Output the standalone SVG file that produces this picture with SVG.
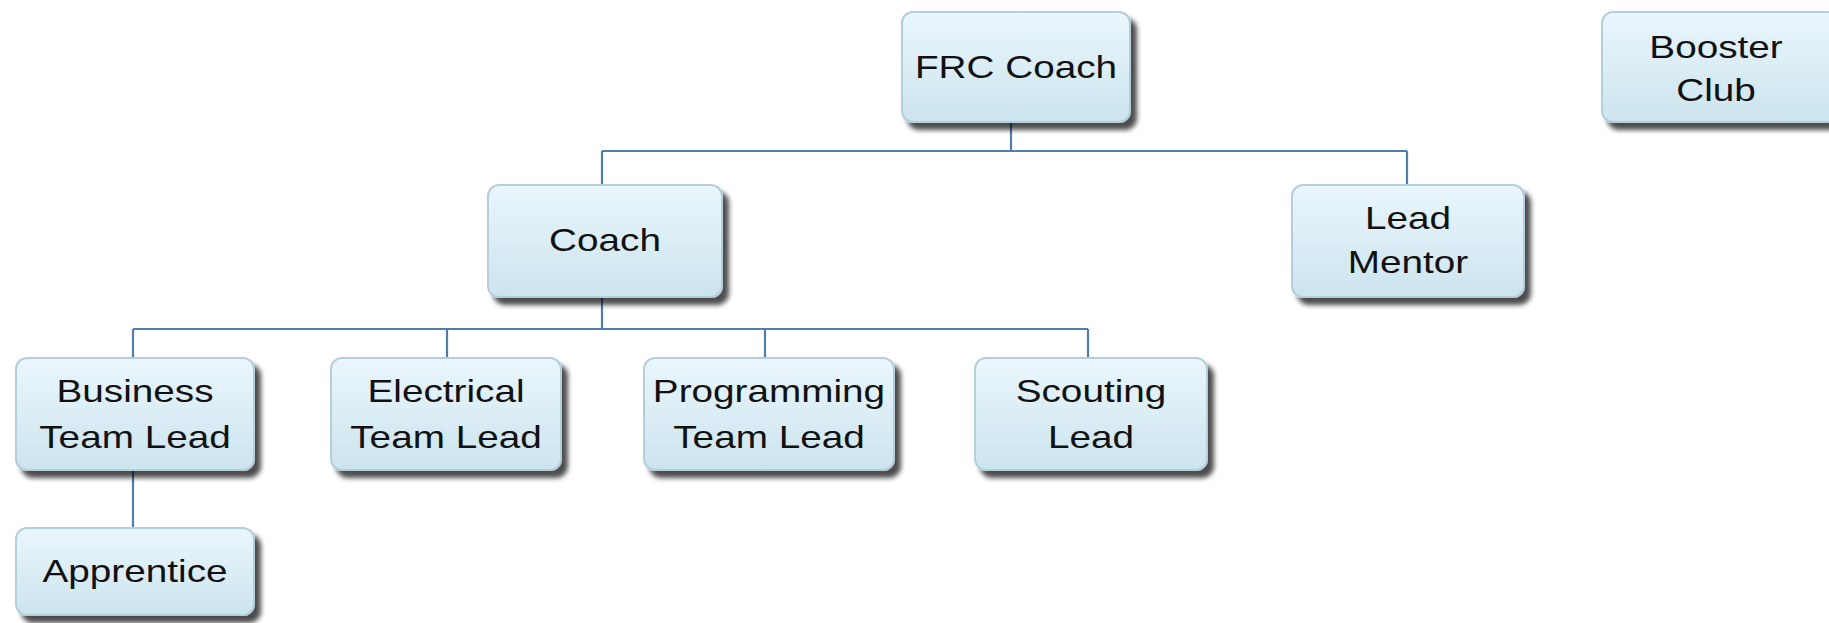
<svg xmlns="http://www.w3.org/2000/svg" width="1829" height="623" viewBox="0 0 1829 623">
<defs>
<linearGradient id="g" x1="0" y1="0" x2="0" y2="1">
<stop offset="0" stop-color="#eaf6fc"/>
<stop offset="1" stop-color="#cce4ee"/>
</linearGradient>
<filter id="sh" x="-10%" y="-10%" width="125%" height="135%">
<feGaussianBlur in="SourceAlpha" stdDeviation="2.5"/>
<feOffset dx="6" dy="7" result="b"/>
<feComponentTransfer><feFuncA type="linear" slope="0.7"/></feComponentTransfer>
<feMerge><feMergeNode/><feMergeNode in="SourceGraphic"/></feMerge>
</filter>
</defs>
<style>
.box{fill:url(#g);stroke:#b4cfdb;stroke-width:2;filter:url(#sh)}
.t{font-family:"Liberation Sans",Arial,sans-serif;font-size:32px;fill:#111111;text-anchor:middle}
.c{fill:none;stroke:#4f7eaa;stroke-width:2.2}
</style>
<rect width="1829" height="623" fill="#ffffff"/>
<g id="connectors">
<path class="c" d="M1011 122V151M602 151H1407M602 151V185M1407 151V185"/>
<path class="c" d="M602 297V329M133 329H1088M133 329V358M447 329V358M765 329V358M1088 329V358"/>
<path class="c" d="M133 470V528"/>
</g>
<g id="frc-coach">
<rect class="box" x="902" y="12" width="228" height="110" rx="11"/>
<text class="t" transform="translate(1016,78) scale(1.21,1)">FRC Coach</text>
</g>
<g id="booster-club">
<rect class="box" x="1602" y="12" width="236" height="110" rx="11"/>
<text class="t" transform="translate(1716,58) scale(1.21,1)">Booster</text>
<text class="t" transform="translate(1716,101) scale(1.21,1)">Club</text>
</g>
<g id="coach">
<rect class="box" x="488" y="185" width="234" height="112" rx="11"/>
<text class="t" transform="translate(605,251) scale(1.21,1)">Coach</text>
</g>
<g id="lead-mentor">
<rect class="box" x="1292" y="185" width="232" height="112" rx="11"/>
<text class="t" transform="translate(1408,229) scale(1.21,1)">Lead</text>
<text class="t" transform="translate(1408,273) scale(1.21,1)">Mentor</text>
</g>
<g id="business-team-lead">
<rect class="box" x="16" y="358" width="238" height="112" rx="11"/>
<text class="t" transform="translate(135,402) scale(1.21,1)">Business</text>
<text class="t" transform="translate(135,448) scale(1.21,1)">Team Lead</text>
</g>
<g id="electrical-team-lead">
<rect class="box" x="331" y="358" width="230" height="112" rx="11"/>
<text class="t" transform="translate(446,402) scale(1.21,1)">Electrical</text>
<text class="t" transform="translate(446,448) scale(1.21,1)">Team Lead</text>
</g>
<g id="programming-team-lead">
<rect class="box" x="644" y="358" width="250" height="112" rx="11"/>
<text class="t" transform="translate(769,402) scale(1.21,1)">Programming</text>
<text class="t" transform="translate(769,448) scale(1.21,1)">Team Lead</text>
</g>
<g id="scouting-lead">
<rect class="box" x="975" y="358" width="232" height="112" rx="11"/>
<text class="t" transform="translate(1091,402) scale(1.21,1)">Scouting</text>
<text class="t" transform="translate(1091,448) scale(1.21,1)">Lead</text>
</g>
<g id="apprentice">
<rect class="box" x="16" y="528" width="238" height="87" rx="11"/>
<text class="t" transform="translate(135,582) scale(1.21,1)">Apprentice</text>
</g>
</svg>
